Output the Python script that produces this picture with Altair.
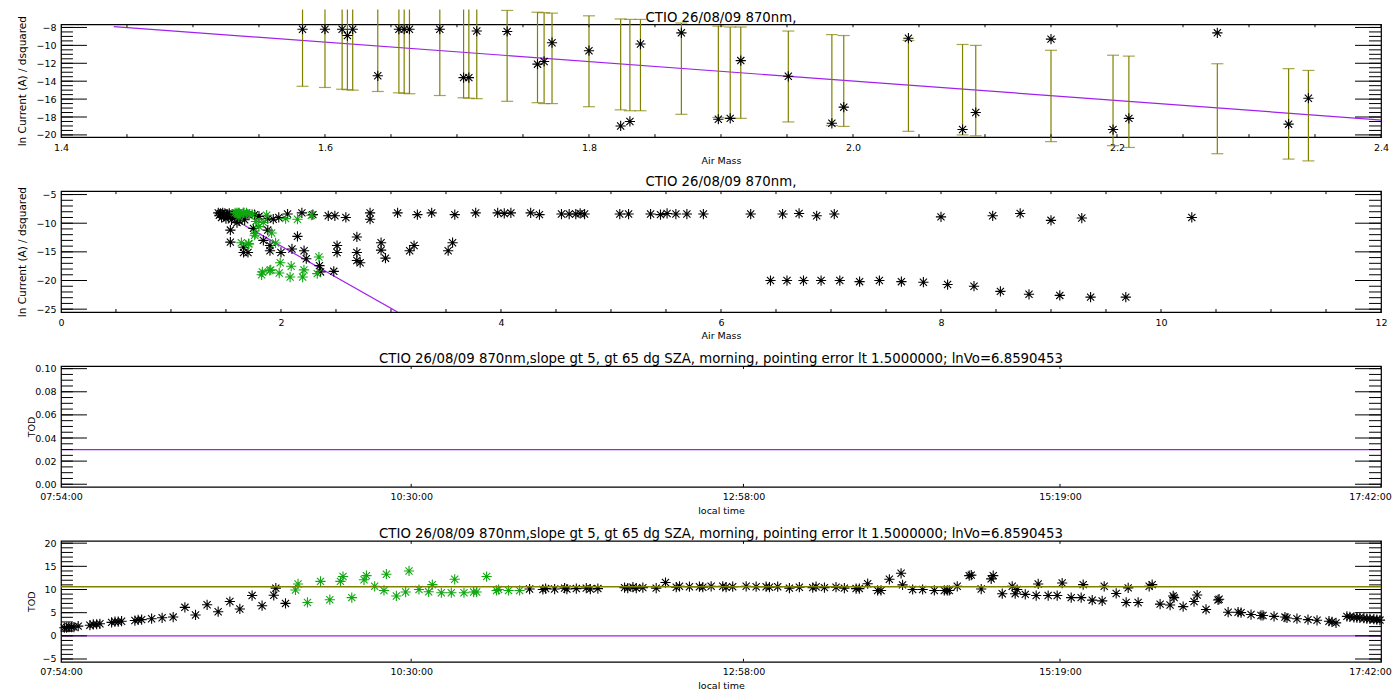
import altair as alt
import numpy as np
import pandas as pd

# ---------------- data ----------------
# Panel 1 (and green points of panel 2): air mass, ln current, error bar ends
AM1 = [1.583, 1.600, 1.613, 1.617, 1.621, 1.640, 1.656, 1.660, 1.664, 1.687,
       1.705, 1.709, 1.715, 1.738, 1.761, 1.766, 1.772, 1.800, 1.824, 1.831,
       1.839, 1.870, 1.898, 1.907, 1.915, 1.951, 1.984, 1.993, 2.042, 2.083,
       2.093, 2.150, 2.197, 2.209, 2.276, 2.330, 2.345]
LN1 = [-8.2, -8.2, -8.2, -8.9, -8.2, -13.4, -8.2, -8.2, -8.2, -8.2,
       -13.6, -13.6, -8.4, -8.45, -12.1, -11.8, -9.7, -10.6, -19.0, -18.5,
       -9.85, -8.6, -18.25, -18.15, -11.7, -13.45, -18.7, -16.9, -9.2, -19.4,
       -17.5, -9.3, -19.4, -18.15, -8.6, -18.8, -15.9]
ERR_LO = [-14.57, -14.7, -14.9, -14.95, -15.0, -15.15, -15.3, -15.35, -15.4, -15.6,
          -15.85, -15.9, -15.95, -16.25, -16.4, -16.5, -16.5, -16.85, -17.2, -17.3,
          -17.3, -17.7, -18.05, -18.15, -18.15, -18.55, -18.95, -19.05, -19.6, -20.0,
          -20.1, -20.75, -21.2, -21.4, -22.1, -22.7, -22.9]
ERR_HI = [-6.0, -6.0, -6.0, -6.0, -6.0, -6.0, -6.0, -6.0, -6.0, -6.0,
          -6.0, -6.0, -6.0, -6.1, -6.3, -6.35, -6.4, -6.7, -7.05, -7.1,
          -7.1, -7.5, -7.85, -7.95, -7.95, -8.4, -8.8, -8.9, -9.45, -9.9,
          -10.0, -10.55, -11.1, -11.2, -12.05, -12.6, -12.8]

# fitted Langley line (end points)
FIT_AM = [1.44, 3.06]
FIT_LN = [-7.9, -25.5]

# Panel 2 black points
AM2 = [1.43, 1.44, 1.45, 1.46, 1.47, 1.48, 1.49, 1.50, 1.51, 1.52, 1.53, 1.55, 1.56, 1.58,
       1.60, 1.62, 1.64, 1.67, 1.70, 1.60, 1.75, 1.88,
       1.76, 1.80, 1.88, 1.93, 1.98, 2.06, 2.19, 2.29, 2.43, 2.49, 2.59, 2.81, 2.81, 3.06,
       3.24, 3.37, 3.58, 3.77, 3.97, 4.03, 4.09, 4.27, 4.35, 4.55, 4.62, 4.68, 4.72, 4.76,
       5.08, 5.16, 5.36, 5.45, 5.51, 5.59, 5.69, 5.84, 6.27, 6.56, 6.71, 6.87, 7.03, 8.00,
       8.47, 8.72, 9.00, 9.28, 10.28,
       1.54, 1.54, 1.66, 1.66, 1.70, 1.84, 1.90, 1.90, 2.00, 2.10, 2.15, 2.21, 2.23, 2.35,
       2.36, 2.48, 2.51, 2.51, 2.69, 2.69, 2.69, 2.72, 2.91, 2.91, 2.95, 3.17, 3.21, 3.52, 3.56,
       6.45, 6.60, 6.75, 6.91, 7.08, 7.26, 7.44, 7.64, 7.84, 8.06, 8.30, 8.54, 8.80, 9.08,
       9.36, 9.68]
LN2 = [-8.2, -8.6, -8.3, -9.0, -8.2, -8.7, -8.3, -9.2, -8.4, -8.8, -8.3, -9.4, -8.5, -9.0,
       -8.4, -9.6, -8.6, -9.4, -8.5, -9.9, -10.9, -11.2,
       -8.5, -8.8, -9.2, -9.3, -9.0, -8.4, -8.2, -8.5, -8.7, -8.7, -9.0, -8.2, -9.3, -8.2,
       -8.5, -8.2, -8.5, -8.2, -8.2, -8.3, -8.2, -8.2, -8.5, -8.4, -8.4, -8.4, -8.3, -8.4,
       -8.4, -8.4, -8.4, -8.5, -8.3, -8.4, -8.4, -8.4, -8.4, -8.4, -8.3, -8.7, -8.4, -8.9,
       -8.7, -8.3, -9.5, -9.1, -9.0,
       -11.2, -13.3, -14.2, -15.1, -15.1, -13.0, -13.9, -14.8, -15.1, -14.5, -12.3, -14.8,
       -16.2, -17.4, -18.5, -18.4, -13.9, -15.1, -12.4, -15.1, -16.5, -16.9, -13.4, -14.7,
       -16.1, -14.8, -13.9, -14.8, -13.4,
       -20.0, -20.0, -20.0, -20.0, -20.0, -20.2, -20.0, -20.2, -20.3, -20.7, -21.0, -21.9,
       -22.4, -22.6, -22.9, -22.9]

# Panel 3: TOD line (local time in decimal hours)
P3_T = [7.9, 17.7]
P3_TOD = [0.03, 0.03]

# Panel 4: local time (decimal hours) and TOD
T4_BLACK = [7.925, 7.942, 7.959, 7.979, 7.996, 8.028, 8.115, 8.140, 8.165, 8.189,
            8.276, 8.301, 8.325, 8.350, 8.449, 8.473, 8.499, 8.573, 8.651, 8.733,
            8.820, 8.899, 8.985, 9.067, 9.154, 9.228, 9.319, 9.393, 9.480, 9.495, 9.567,
            11.379, 11.478, 11.498, 11.565, 11.639, 11.656, 11.726, 11.800, 11.830, 11.886,
            12.084, 12.108, 12.146, 12.171, 12.220, 12.319, 12.388, 12.468, 12.492, 12.566,
            12.640, 12.665, 12.727, 12.813, 12.838, 12.887, 12.987, 13.061, 13.135, 13.160,
            13.221, 13.308, 13.382, 13.481, 13.506, 13.568, 13.654, 13.716, 13.803, 13.827,
            13.889, 13.963, 13.988, 14.050, 14.137, 14.148, 14.223, 14.297,
            14.384, 14.458, 14.480, 14.495, 14.554, 14.643, 14.658, 14.732, 14.806, 14.821,
            14.888, 14.962, 14.984, 14.999, 15.059, 15.140, 15.155, 15.229, 15.296, 15.333,
            15.400, 15.474, 15.489, 15.556, 15.630, 15.645, 15.734, 15.808, 15.823, 15.897,
            15.979, 16.001, 16.060, 16.134, 16.157, 16.164, 16.231, 16.312, 16.335, 16.401,
            16.490, 16.498, 16.565, 16.639, 16.661, 16.735, 16.809, 16.824, 16.906, 16.987,
            17.002, 17.076, 17.158, 17.225, 17.314, 17.336, 17.366,
            17.447, 17.469, 17.499, 17.521, 17.543, 17.573, 17.595, 17.618, 17.647, 17.669, 17.692]
V4_BLACK = [1.75, 1.75, 1.9, 1.9, 1.9, 2.1, 2.3, 2.45, 2.5, 2.6,
            2.9, 3.05, 3.05, 3.15, 3.3, 3.45, 3.5, 3.7, 3.9, 4.05,
            6.15, 4.5, 6.7, 5.2, 7.4, 5.8, 8.7, 6.5, 8.75, 10.3, 7.0,
            10.1, 10.0, 10.2, 10.1, 10.3, 10.1, 10.2, 10.3, 10.1, 10.2,
            10.4, 10.3, 10.5, 10.3, 10.4, 10.3, 11.5, 10.5, 10.7, 10.6,
            10.6, 10.5, 10.7, 10.7, 10.5, 10.6, 10.7, 10.6, 10.6, 10.5,
            10.6, 10.3, 10.5, 10.4, 10.6, 10.4, 10.5, 10.3, 10.2, 10.2,
            11.25, 9.8, 9.8, 12.2, 13.5, 11.0, 10.0, 10.0,
            9.8, 9.8, 9.8, 9.8, 10.7, 13.0, 13.1, 10.1, 12.3, 13.0,
            9.1, 10.7, 9.1, 10.0, 8.95, 8.7, 11.2, 8.7, 8.7, 11.4,
            8.25, 8.25, 11.05, 7.7, 7.55, 10.7, 9.15, 7.2, 10.35, 7.2,
            10.7, 11.05, 6.85, 6.65, 8.6, 8.25, 6.3, 7.4, 8.8, 5.7,
            7.75, 7.9, 5.1, 5.1, 5.0, 4.6, 4.4, 4.4, 4.2, 4.05,
            3.85, 3.7, 3.5, 3.35, 3.15, 3.0, 2.8,
            4.2, 4.1, 4.0, 3.95, 3.9, 3.8, 3.7, 3.65, 3.6, 3.5, 3.4]
T4_GREEN = [9.641, 9.660, 9.730, 9.827, 9.896, 9.975, 9.994, 10.059, 10.150, 10.168,
            10.229, 10.298, 10.316, 10.390, 10.459, 10.484, 10.558, 10.630, 10.657, 10.724,
            10.798, 10.823, 10.892, 10.964, 10.986, 11.060, 11.134, 11.149, 11.223, 11.305]
V4_GREEN = [9.9, 11.2, 7.2, 11.75, 7.8, 11.75, 12.8, 8.25, 12.1, 13.0,
            10.7, 9.8, 13.3, 8.6, 9.45, 14.0, 10.0, 9.5, 11.05, 9.3,
            9.3, 12.2, 9.3, 9.45, 9.45, 12.8, 9.8, 10.0, 9.8, 9.8]
P4_T = [7.9, 17.7]
P4_MEAN = [10.6, 10.6]
P4_ZERO = [0.0, 0.0]

TIME_TICKS = [7.9, 10.5, 12.9667, 15.3167, 17.7]
TIME_LABELS = ["07:54:00", "10:30:00", "12:58:00", "15:19:00", "17:42:00"]

P1_XTICKS = [1.4, 1.6, 1.8, 2.0, 2.2, 2.4]
P1_YTICKS = [-20, -18, -16, -14, -12, -10, -8]
P2_XTICKS = [0, 2, 4, 6, 8, 10, 12]
P2_YTICKS = [-25, -20, -15, -10, -5]
P3_YTICKS = [0.0, 0.02, 0.04, 0.06, 0.08, 0.10]
P4_YTICKS = [-5, 0, 5, 10, 15, 20]

TITLE_A = "CTIO 26/08/09 870nm,"
TITLE_B = ("CTIO 26/08/09 870nm,slope gt 5, gt 65 dg SZA, morning, "
           "pointing error lt 1.5000000; lnVo=6.8590453")

# ---------------- styling ----------------
FONT = "DejaVu Sans"
W = 1321
OLIVE = "#808000"
PURPLE = "#a020f0"
GREEN = "#10a810"
STAR = "M-1,0L1,0M0,-1L0,1M-0.7,-0.7L0.7,0.7M-0.7,0.7L0.7,-0.7"
VIEW = alt.ViewBackground(stroke="black", strokeWidth=1.2)

time_expr = ""
for i in range(len(TIME_TICKS) - 1):
    mid = (TIME_TICKS[i] + TIME_TICKS[i + 1]) / 2
    time_expr += f"datum.value < {mid} ? '{TIME_LABELS[i]}' : "
time_expr += f"'{TIME_LABELS[-1]}'"


def ptitle(text, offset=-2):
    return alt.TitleParams(text=text, fontSize=13.3, font=FONT, fontWeight="normal",
                           offset=offset, color="black", anchor="middle", frame="group")


def xaxis(title, values, fmt=None, expr=None, last_shift=0):
    kw = dict(title=title, values=values, labelOverlap=False, labelFlush=False,
              labelBound=False, labelSeparation=0)
    if fmt:
        kw["format"] = fmt
    if expr:
        kw["labelExpr"] = expr
    if last_shift:
        kw["labelOffset"] = {"condition": {"test": f"datum.value >= {values[-1] - 0.01}",
                                           "value": last_shift}, "value": 0}
    return alt.Axis(**kw)


def yaxis(title, values, fmt, H, tx, tsize):
    return alt.Axis(title=title, values=values, format=fmt, titleX=tx, titleY=H / 2,
                    titleAngle=270, titleAlign="center", titleBaseline="middle",
                    titleFontSize=tsize, labelOverlap=False, labelFlush=False,
                    labelBound=False, labelSeparation=0)


def tick_layers(xticks, ymajor, yminor, xs, ys, xa, ya, H, xlen=3):
    layers = []
    dfx = pd.DataFrame({"t": xticks})
    for y0, y1 in [(H, H - xlen), (0, xlen)]:
        layers.append(alt.Chart(dfx).mark_rule(color="black", strokeWidth=1, clip=True).encode(
            x=alt.X("t:Q", scale=xs, axis=xa), y=alt.value(y0), y2=alt.value(y1)))
    for vals, ln in [(ymajor, 26), (yminor, 12)]:
        dfy = pd.DataFrame({"t": vals})
        for x0, x1 in [(0, ln), (W, W - ln)]:
            layers.append(alt.Chart(dfy).mark_rule(color="black", strokeWidth=1, clip=True).encode(
                y=alt.Y("t:Q", scale=ys, axis=ya), x=alt.value(x0), x2=alt.value(x1)))
    return layers


def stars(df, xf, yf, xs, ys, xa, ya, color):
    return alt.Chart(df).mark_point(shape=STAR, filled=False, size=105, strokeWidth=1.1,
                                    color=color, opacity=1).encode(
        x=alt.X(f"{xf}:Q", scale=xs, axis=xa), y=alt.Y(f"{yf}:Q", scale=ys, axis=ya))


df1 = pd.DataFrame({"am": AM1, "ln": LN1, "lo": ERR_LO, "hi": ERR_HI})
dfit = pd.DataFrame({"am": FIT_AM, "ln": FIT_LN})
df2 = pd.DataFrame({"am": AM2, "ln": LN2})

# ---------------- panel 1 ----------------
H1 = 113
xs1 = alt.Scale(domain=[1.4, 2.4], nice=False, zero=False)
ys1 = alt.Scale(domain=[-20.25, -7.64], nice=False, zero=False)
xa1 = xaxis("Air Mass", P1_XTICKS, ".1f")
ya1 = yaxis("ln Current (A) / dsquared", P1_YTICKS, "d", H1, -38, 10.5)
p1_line = alt.Chart(dfit).mark_line(color=PURPLE, strokeWidth=1.2, clip=True).encode(
    x=alt.X("am:Q", scale=xs1, axis=xa1), y=alt.Y("ln:Q", scale=ys1, axis=ya1))
p1_bars = alt.Chart(df1).mark_rule(color=OLIVE, strokeWidth=1.2).encode(
    x=alt.X("am:Q", scale=xs1, axis=xa1), y=alt.Y("lo:Q", scale=ys1, axis=ya1), y2="hi:Q")
p1_lcap = alt.Chart(df1).mark_tick(color=OLIVE, orient="horizontal", size=12, thickness=1.2).encode(
    x=alt.X("am:Q", scale=xs1, axis=xa1), y=alt.Y("lo:Q", scale=ys1, axis=ya1))
p1_hcap = alt.Chart(df1).transform_filter("datum.hi < -6.05").mark_tick(
    color=OLIVE, orient="horizontal", size=12, thickness=1.2).encode(
    x=alt.X("am:Q", scale=xs1, axis=xa1), y=alt.Y("hi:Q", scale=ys1, axis=ya1))
p1 = alt.layer(
    p1_line, p1_bars, p1_lcap, p1_hcap, stars(df1, "am", "ln", xs1, ys1, xa1, ya1, "black"),
    *tick_layers(list(np.round(np.arange(1.4, 2.401, 0.05), 3)), P1_YTICKS,
                 list(np.arange(-20, -7.6, 0.5)), xs1, ys1, xa1, ya1, H1)
).properties(width=W, height=H1, title=ptitle(TITLE_A, offset=-15), view=VIEW)

# ---------------- panel 2 ----------------
H = 121
xs2 = alt.Scale(domain=[0, 12], nice=False, zero=False)
ys2 = alt.Scale(domain=[-25.5, -4.4], nice=False, zero=False)
xa2 = xaxis("Air Mass", P2_XTICKS, "d")
ya2 = yaxis("ln Current (A) / dsquared", P2_YTICKS, "d", H, -38, 10.5)
p2_line = alt.Chart(dfit).mark_line(color=PURPLE, strokeWidth=1.2, clip=True).encode(
    x=alt.X("am:Q", scale=xs2, axis=xa2), y=alt.Y("ln:Q", scale=ys2, axis=ya2))
p2 = alt.layer(
    p2_line,
    stars(df2, "am", "ln", xs2, ys2, xa2, ya2, "black"),
    stars(df1, "am", "ln", xs2, ys2, xa2, ya2, GREEN),
    *tick_layers(list(np.arange(0, 12.01, 0.5)), P2_YTICKS,
                 list(range(-25, -4)), xs2, ys2, xa2, ya2, H)
).properties(width=W, height=H, title=ptitle(TITLE_A), view=VIEW)

# ---------------- panel 3 ----------------
xs3 = alt.Scale(domain=[7.9, 17.7], nice=False, zero=False)
ys3 = alt.Scale(domain=[-0.0023, 0.1023], nice=False, zero=False)
xa3 = xaxis("local time", TIME_TICKS, expr=time_expr, last_shift=-11)
ya3 = yaxis("TOD", P3_YTICKS, ".2f", H, -29, 9.5)
df3 = pd.DataFrame({"t": P3_T, "tod": P3_TOD})
p3_line = alt.Chart(df3).mark_line(color=PURPLE, strokeWidth=1.2).encode(
    x=alt.X("t:Q", scale=xs3, axis=xa3), y=alt.Y("tod:Q", scale=ys3, axis=ya3))
p3 = alt.layer(
    p3_line,
    *tick_layers(TIME_TICKS, P3_YTICKS,
                 list(np.round(np.arange(0, 0.1001, 0.005), 3)), xs3, ys3, xa3, ya3, H)
).properties(width=W, height=H, title=ptitle(TITLE_B), view=VIEW)

# ---------------- panel 4 ----------------
ys4 = alt.Scale(domain=[-5.6, 20.5], nice=False, zero=False)
ya4 = yaxis("TOD", P4_YTICKS, "d", H, -29, 9.5)
df4b = pd.DataFrame({"t": T4_BLACK, "tod": V4_BLACK})
df4g = pd.DataFrame({"t": T4_GREEN, "tod": V4_GREEN})
df4l = pd.DataFrame({"t": P4_T, "mean": P4_MEAN, "zero": P4_ZERO})
p4_zero = alt.Chart(df4l).mark_line(color=PURPLE, strokeWidth=1.2).encode(
    x=alt.X("t:Q", scale=xs3, axis=xa3), y=alt.Y("zero:Q", scale=ys4, axis=ya4))
p4_mean = alt.Chart(df4l).mark_line(color=OLIVE, strokeWidth=1.3).encode(
    x=alt.X("t:Q", scale=xs3, axis=xa3), y=alt.Y("mean:Q", scale=ys4, axis=ya4))
p4 = alt.layer(
    p4_zero,
    stars(df4b, "t", "tod", xs3, ys4, xa3, ya4, "black"),
    stars(df4g, "t", "tod", xs3, ys4, xa3, ya4, GREEN),
    p4_mean,
    *tick_layers(TIME_TICKS, P4_YTICKS, list(range(-5, 21)), xs3, ys4, xa3, ya4, H)
).properties(width=W, height=H, title=ptitle(TITLE_B), view=VIEW)

chart = alt.vconcat(p1, p2, p3, p4, spacing=54, bounds="flush").properties(
    padding={"left": 9, "top": 0, "right": 0, "bottom": 2}, background="white"
).configure_view(stroke="black", strokeWidth=1.2).configure_axis(
    domain=False, ticks=False, tickSize=0, grid=False,
    labelFont=FONT, labelFontSize=9.5, labelColor="black", labelPadding=5,
    labelFlush=False, labelOverlap=False,
    titleFont=FONT, titleFontSize=9.5, titleFontWeight="normal", titleColor="black",
    titlePadding=4,
)

chart.save("out.html", embed_options={"renderer": "svg", "actions": False})
